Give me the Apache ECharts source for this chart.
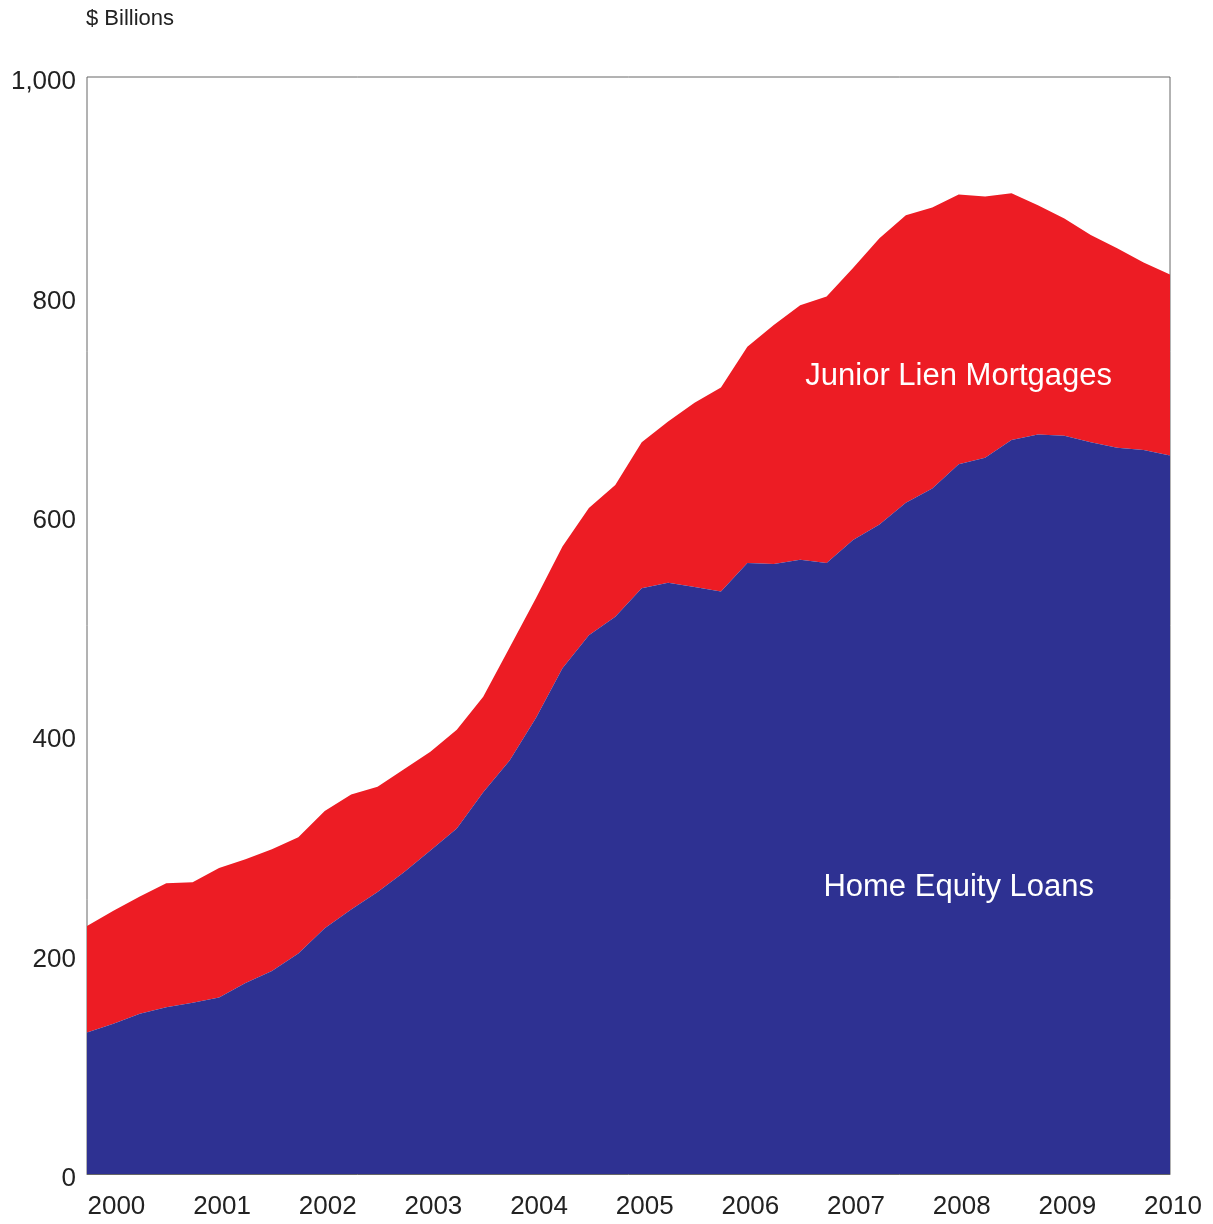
<!DOCTYPE html>
<html>
<head>
<meta charset="utf-8">
<script src="https://cdn.jsdelivr.net/npm/echarts@6/dist/echarts.min.js"></script>
<style>
html,body{margin:0;padding:0;background:#fff;}
#chart{width:1213px;height:1224px;}
</style>
</head>
<body>
<div id="chart"></div>
<script>
// Quarterly categories, 1999 Q4 through 2010 Q1
const quarters = [
  '1999 Q4',
  '2000 Q1','2000 Q2','2000 Q3','2000 Q4',
  '2001 Q1','2001 Q2','2001 Q3','2001 Q4',
  '2002 Q1','2002 Q2','2002 Q3','2002 Q4',
  '2003 Q1','2003 Q2','2003 Q3','2003 Q4',
  '2004 Q1','2004 Q2','2004 Q3','2004 Q4',
  '2005 Q1','2005 Q2','2005 Q3','2005 Q4',
  '2006 Q1','2006 Q2','2006 Q3','2006 Q4',
  '2007 Q1','2007 Q2','2007 Q3','2007 Q4',
  '2008 Q1','2008 Q2','2008 Q3','2008 Q4',
  '2009 Q1','2009 Q2','2009 Q3','2009 Q4',
  '2010 Q1'
];

// Home equity loans ($ billions)
const homeEquityLoans = [
  129, 137, 146, 152, 156, 161, 174, 185, 201, 224,
  241, 257, 275, 295, 315, 348, 377, 416, 461, 491,
  508, 534, 539, 535, 531, 557, 556, 560, 557, 578,
  592, 612, 625, 647, 653, 669, 674, 673, 667, 662,
  660, 655
];

// Junior lien mortgages ($ billions), stacked on top of home equity loans
const juniorLienMortgages = [
   97, 103, 107, 113, 110, 118, 113, 111, 106, 107,
  105,  96,  94,  90,  90,  87, 103, 109, 111, 116,
  120, 133, 147, 168, 186, 197, 218, 232, 243, 248,
  261, 262, 256, 246, 238, 225, 209, 198, 189, 182,
  171, 165
];

const yTicks = [0, 200, 400, 600, 800, 1000];

const FONT = "'Liberation Sans', Arial, Helvetica, sans-serif";

const chart = echarts.init(document.getElementById('chart'), null, {renderer: 'canvas'});

chart.setOption({
  animation: false,
  backgroundColor: '#ffffff',
  textStyle: {fontFamily: FONT},
  title: {
    text: '$ Billions',
    left: 86,
    top: 8,
    padding: 0,
    textStyle: {fontFamily: FONT, fontSize: 22, fontWeight: 'normal', color: '#222'}
  },
  grid: {
    left: 87, right: 43, top: 77, bottom: 50,
    show: true,
    borderColor: '#666',
    borderWidth: 1,
    containLabel: false
  },
  xAxis: {
    type: 'category',
    data: quarters,
    boundaryGap: false,
    axisLine: {show: true, lineStyle: {color: '#666', width: 1}},
    axisTick: {show: false},
    splitLine: {show: false},
    axisLabel: {
      interval: function (idx) { return idx % 4 === 1; },
      formatter: function (v) { return v.slice(0, 4); },
      fontFamily: FONT,
      fontSize: 26,
      color: '#222',
      margin: 20,
      padding: [0, 0, 0, 6]
    }
  },
  yAxis: {
    type: 'value',
    min: yTicks[0],
    max: yTicks[yTicks.length - 1],
    interval: 200,
    axisLine: {show: false},
    axisTick: {show: false},
    splitLine: {show: false},
    axisLabel: {
      fontFamily: FONT,
      fontSize: 26,
      color: '#222',
      margin: 11,
      verticalAlign: 'top',
      lineHeight: 10,
      formatter: function (v) { return v.toLocaleString('en-US'); }
    }
  },
  series: [
    {
      name: 'Home Equity Loans',
      type: 'line',
      stack: 'total',
      data: homeEquityLoans,
      symbol: 'none',
      lineStyle: {width: 0},
      areaStyle: {color: '#2E3192', opacity: 1},
      itemStyle: {color: '#2E3192'},
      z: 2,
      markPoint: {
        symbol: 'rect',
        symbolSize: 1,
        itemStyle: {color: 'rgba(0,0,0,0)'},
        label: {
          show: true,
          position: 'inside',
          color: '#ffffff',
          fontFamily: FONT,
          fontSize: 31
        },
        data: [
          {name: 'Junior Lien Mortgages', coord: ['2008 Q1', 727], label: {formatter: 'Junior Lien Mortgages'}},
          {name: 'Home Equity Loans', coord: ['2008 Q1', 261], label: {formatter: 'Home Equity Loans'}}
        ],
        z: 10
      }
    },
    {
      name: 'Junior Lien Mortgages',
      type: 'line',
      stack: 'total',
      data: juniorLienMortgages,
      symbol: 'none',
      lineStyle: {width: 0},
      areaStyle: {color: '#ED1C24', opacity: 1},
      itemStyle: {color: '#ED1C24'},
      z: 1
    }
  ]
});
</script>
</body>
</html>
